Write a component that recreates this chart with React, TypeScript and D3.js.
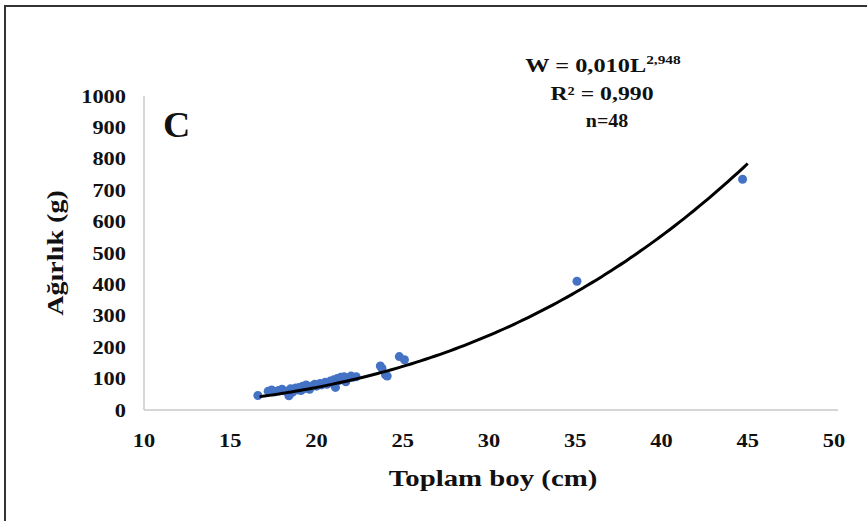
import React from "react";
import * as d3 from "d3";

const lengths = [16.6, 17.2, 17.4, 17.6, 17.8, 18.0, 18.2, 18.4, 18.5, 18.6, 18.8, 18.9, 19.0, 19.1, 19.2, 19.3, 19.4, 19.5, 19.6, 19.8, 19.9, 20.0, 20.2, 20.3, 20.5, 20.6, 20.8, 20.9, 21.0, 21.1, 21.2, 21.3, 21.4, 21.5, 21.6, 21.7, 21.8, 22.0, 22.1, 22.3, 23.7, 23.8, 24.0, 24.1, 24.8, 25.1, 35.1, 44.7];
const weights = [46, 60, 64, 58, 62, 66, 60, 45, 68, 56, 70, 64, 72, 62, 76, 68, 80, 74, 66, 78, 82, 76, 84, 80, 88, 82, 92, 86, 96, 72, 100, 94, 104, 98, 106, 90, 102, 108, 104, 106, 140, 132, 112, 108, 170, 160, 410, 735];

const xTicks = [10, 15, 20, 25, 30, 35, 40, 45, 50];
const yTicks = [0, 100, 200, 300, 400, 500, 600, 700, 800, 900, 1000];

// trendline parameters (power fit shown on the chart)
const trendA = 0.0105;
const trendB = 2.948;
const trendRange = [16.7, 45.0];

const SX = 1.18;

function T({ x, y, size, anchor = "middle", rotate = 0, sx = SX, children }: any) {
  return (
    <text
      transform={`translate(${x},${y}) rotate(${rotate}) scale(${sx},1)`}
      textAnchor={anchor}
      fontSize={size}
      fontWeight="bold"
      fill="#111"
    >
      {children}
    </text>
  );
}

export default function App() {
  const W = 867;
  const H = 521;
  const x = d3.scaleLinear().domain([10, 50]).range([144, 834]);
  const y = d3.scaleLinear().domain([0, 1000]).range([410, 96]);
  const font = "'Liberation Serif', 'Times New Roman', serif";

  const trendPts = d3.range(0, 101).map((i) => {
    const L = trendRange[0] + ((trendRange[1] - trendRange[0]) * i) / 100;
    return [L, trendA * Math.pow(L, trendB)] as [number, number];
  });
  const line = d3
    .line<[number, number]>()
    .x((d) => x(d[0]))
    .y((d) => y(d[1]))
    .curve(d3.curveBasis);

  return (
    <svg
      width={W}
      height={H}
      style={{ position: "absolute", left: 0, top: 0, background: "#fff" }}
      fontFamily={font}
    >
      <rect x={0} y={0} width={W} height={H} fill="#fff" />
      <rect x={5} y={6} width={W + 20} height={H + 20} fill="none" stroke="#333" strokeWidth={2} />
      {/* axes */}
      <line x1={x(10)} x2={x(10)} y1={y(1000)} y2={y(0)} stroke="#c8c8c8" strokeWidth={1.5} />
      <line x1={x(10)} x2={x(50) + 4} y1={y(0)} y2={y(0)} stroke="#c8c8c8" strokeWidth={1.5} />
      {yTicks.map((t) => (
        <T key={t} x={126} y={y(t) + 6.5} size={19} anchor="end">
          {t}
        </T>
      ))}
      {xTicks.map((t) => (
        <T key={t} x={x(t)} y={447} size={19}>
          {t}
        </T>
      ))}
      <T x={493} y={486} size={24} sx={1.2}>
        Toplam boy (cm)
      </T>
      <T x={63} y={253} size={24} rotate={-90} sx={1.17}>
        Ağırlık (g)
      </T>
      <T x={163} y={137} size={36} anchor="start" sx={1.05}>
        C
      </T>
      <T x={603} y={72} size={19} sx={1.28}>
        W = 0,010L<tspan dy={-8} fontSize={12}>2,948</tspan>
      </T>
      <T x={602} y={100} size={19} sx={1.25}>
        R² = 0,990
      </T>
      <T x={607} y={127} size={19} sx={1.05}>
        n=48
      </T>
      {lengths.map((L, i) => (
        <circle key={i} cx={x(L)} cy={y(weights[i])} r={4.5} fill="#4472C4" />
      ))}
      <path d={line(trendPts) || ""} fill="none" stroke="#000" strokeWidth={3} />
    </svg>
  );
}
